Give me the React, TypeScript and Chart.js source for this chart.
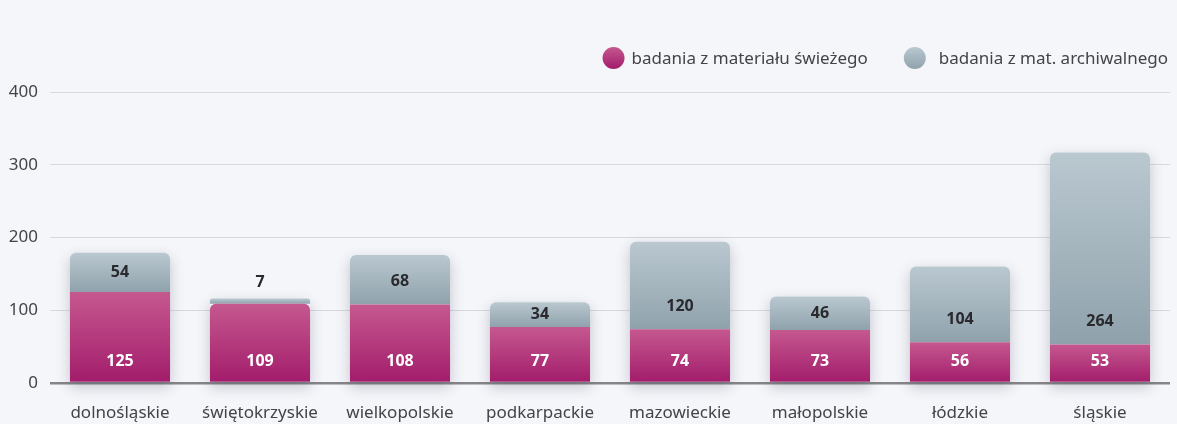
import React, { useEffect, useRef } from "react";
import { Chart, registerables } from "chart.js";

Chart.register(...registerables);

const categories = ["dolnośląskie", "świętokrzyskie", "wielkopolskie", "podkarpackie", "mazowieckie", "małopolskie", "łódzkie", "śląskie"];
const freshValues = [125, 109, 108, 77, 74, 73, 56, 53];
const archiveValues = [54, 7, 68, 34, 120, 46, 104, 264];
const seriesNames = ["badania z materiału świeżego", "badania z mat. archiwalnego"];
const yTicks = [0, 100, 200, 300, 400];

const FONT = "'Noto Sans', sans-serif";
const BG = "#f5f6fa";
const TEXT = "#444448";
const MAG_TOP = "#c5588f";
const MAG_BOT = "#a21c6b";
const GRAY_TOP = "#bac8d0";
const GRAY_BOT = "#8fa2ac";

function segGradient(c: any, top: string, bot: string, fallback: string) {
  const chart = c.chart;
  if (!chart.chartArea || c.type !== "data") return fallback;
  const y = chart.scales.y;
  const i = c.dataIndex;
  const start = c.datasetIndex === 0 ? 0 : freshValues[i];
  const val = c.datasetIndex === 0 ? freshValues[i] : archiveValues[i];
  const pTop = y.getPixelForValue(start + val);
  const pBot = y.getPixelForValue(start);
  if (!isFinite(pTop) || !isFinite(pBot) || pTop === pBot) return fallback;
  const g = chart.ctx.createLinearGradient(0, pTop, 0, pBot);
  g.addColorStop(0, top);
  g.addColorStop(1, bot);
  return g;
}

const shadowPlugin = {
  id: "barShadow",
  beforeDatasetsDraw(chart: any) {
    const ctx = chart.ctx;
    const m0 = chart.getDatasetMeta(0);
    const m1 = chart.getDatasetMeta(1);
    ctx.save();
    ctx.shadowColor = "rgba(40,40,60,0.24)";
    ctx.shadowBlur = 14;
    ctx.shadowOffsetY = 5;
    ctx.fillStyle = BG;
    m1.data.forEach((bar: any, i: number) => {
      const base = m0.data[i].base;
      const top = bar.y;
      const w = bar.width;
      const x = bar.x - w / 2;
      const r = 6;
      ctx.beginPath();
      ctx.moveTo(x, base);
      ctx.lineTo(x, top + r);
      ctx.quadraticCurveTo(x, top, x + r, top);
      ctx.lineTo(x + w - r, top);
      ctx.quadraticCurveTo(x + w, top, x + w, top + r);
      ctx.lineTo(x + w, base);
      ctx.closePath();
      ctx.fill();
    });
    ctx.restore();
  },
};

const labelPlugin = {
  id: "barLabels",
  afterDatasetsDraw(chart: any) {
    const ctx = chart.ctx;
    const m0 = chart.getDatasetMeta(0);
    const m1 = chart.getDatasetMeta(1);
    ctx.save();
    ctx.font = `bold 16px ${FONT}`;
    ctx.textAlign = "center";
    ctx.textBaseline = "middle";
    m0.data.forEach((bar: any, i: number) => {
      ctx.fillStyle = "#ffffff";
      ctx.fillText(String(freshValues[i]), bar.x, bar.base - 20);
      const g = m1.data[i];
      const segTop = g.y;
      const segBot = g.base;
      let ly: number;
      if (segBot - segTop < 20) {
        ly = segTop - 16;
      } else {
        ly = Math.max((segTop + segBot) / 2, segBot - 23);
      }
      ctx.fillStyle = "#2a2a2e";
      ctx.fillText(String(archiveValues[i]), g.x, ly);
    });
    ctx.restore();
  },
};

const legendPlugin = {
  id: "customLegend",
  afterDraw(chart: any) {
    const ctx = chart.ctx;
    ctx.save();
    ctx.font = `17px ${FONT}`;
    ctx.textBaseline = "middle";
    ctx.textAlign = "left";
    const cy = 58;
    const r = 11;
    const w1 = ctx.measureText(seriesNames[0]).width;
    const w2 = ctx.measureText(seriesNames[1]).width;
    const t2 = chart.width - 9 - w2;
    const c2 = t2 - 24;
    const t1end = c2 - r - 36;
    const t1 = t1end - w1;
    const c1 = t1 - 18;
    const items = [
      { cx: c1, tx: t1, top: MAG_TOP, bot: MAG_BOT, text: seriesNames[0] },
      { cx: c2, tx: t2, top: GRAY_TOP, bot: GRAY_BOT, text: seriesNames[1] },
    ];
    items.forEach((it) => {
      const g = ctx.createLinearGradient(0, cy - r, 0, cy + r);
      g.addColorStop(0, it.top);
      g.addColorStop(1, it.bot);
      ctx.fillStyle = g;
      ctx.beginPath();
      ctx.arc(it.cx, cy, r, 0, Math.PI * 2);
      ctx.fill();
      ctx.fillStyle = TEXT;
      ctx.fillText(it.text, it.tx, cy + 1);
    });
    ctx.restore();
  },
};

export default function App() {
  const ref = useRef<HTMLCanvasElement | null>(null);
  useEffect(() => {
    document.body.style.margin = "0";
    document.body.style.background = BG;
    const canvas = ref.current;
    if (!canvas) return;
    const chart = new Chart(canvas, {
      type: "bar",
      data: {
        labels: categories,
        datasets: [
          {
            label: seriesNames[0],
            data: freshValues,
            backgroundColor: (c: any) => segGradient(c, MAG_TOP, MAG_BOT, "#b43a7d"),
            borderRadius: (c: any) => (archiveValues[c.dataIndex] < 10 ? { topLeft: 6, topRight: 6, bottomLeft: 0, bottomRight: 0 } : 0),
            borderSkipped: "start",
            barPercentage: 0.715,
            categoryPercentage: 1,
          },
          {
            label: seriesNames[1],
            data: archiveValues,
            backgroundColor: (c: any) => segGradient(c, GRAY_TOP, GRAY_BOT, "#a3b4bd"),
            borderRadius: { topLeft: 6, topRight: 6, bottomLeft: 0, bottomRight: 0 },
            borderSkipped: "start",
            barPercentage: 0.715,
            categoryPercentage: 1,
          },
        ],
      },
      options: {
        animation: false,
        responsive: false,
        maintainAspectRatio: false,
        layout: { padding: { top: 92, left: 8, right: 7, bottom: 0 } },
        plugins: {
          tooltip: { enabled: false },
          legend: { display: false },
        },
        scales: {
          x: {
            stacked: true,
            grid: { display: false, drawTicks: false },
            border: { display: false },
            ticks: { color: TEXT, font: { family: FONT, size: 17 }, padding: 20, maxRotation: 0 },
            afterFit: (s: any) => {
              s.height = 41;
            },
          },
          y: {
            stacked: true,
            min: 0,
            max: 400,
            afterBuildTicks: (s: any) => {
              s.ticks = yTicks.map((v) => ({ value: v }));
            },
            afterFit: (s: any) => {
              s.width = 42;
            },
            grid: {
              drawTicks: false,
              color: (c: any) => (c.tick && c.tick.value === 0 ? "#86868a" : "#d8d9de"),
              lineWidth: (c: any) => (c.tick && c.tick.value === 0 ? 2.5 : 1),
            },
            border: { display: false },
            ticks: {
              color: TEXT,
              font: { family: FONT, size: 17 },
              padding: 12,
            },
          },
        },
      },
      plugins: [shadowPlugin, labelPlugin, legendPlugin],
    } as any);
    return () => chart.destroy();
  }, []);
  return (
    <div style={{ width: 1177, height: 424, background: BG }}>
      <canvas ref={ref} width={1177} height={424} style={{ display: "block" }} />
    </div>
  );
}
